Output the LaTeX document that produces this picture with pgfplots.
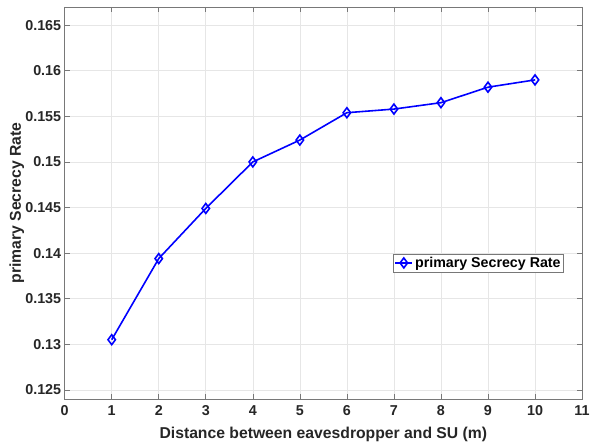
\documentclass[border=0pt]{standalone}
\usepackage{fontspec}
\setmainfont{Liberation Sans}
\usepackage{pgfplots}
\pgfplotsset{compat=1.18}

\definecolor{mblue}{RGB}{0,0,255}
\definecolor{axgray}{RGB}{120,120,120}
\definecolor{gridgray}{RGB}{230,230,230}

\begin{document}
\begin{tikzpicture}
\begin{axis}[
  scale only axis, width=520pt, height=394pt,
  xmin=0, xmax=11, ymin=0.124, ymax=0.167,
  xtick={0,1,...,11},
  xticklabels={0,1,2,3,4,5,6,7,8,9,10,11},
  ytick={0.125,0.13,0.135,0.14,0.145,0.15,0.155,0.16,0.165},
  yticklabels={0.125,0.13,0.135,0.14,0.145,0.15,0.155,0.16,0.165},
  every tick label/.append style={font=\Large\bfseries, text=black!85},
  xticklabel style={yshift=-3pt},
  tick align=inside, tick pos=both,
  major tick length=5pt,
  axis line style={axgray, line width=0.7pt},
  every tick/.style={axgray, line width=0.6pt},
  grid=major, major grid style={gridgray, line width=0.6pt},
  xlabel={Distance between eavesdropper and SU (m)},
  ylabel={primary Secrecy Rate},
  label style={font=\fontsize{15.8}{18}\selectfont\bfseries, text=black!85},
  xlabel style={at={(axis description cs:0.5,-0.0914)}, anchor=center},
  ylabel style={at={(axis description cs:-0.0923,0.5)}, anchor=center},
  legend style={at={(axis description cs:0.8,0.347)}, anchor=center,
    draw=axgray, fill=white, font=\fontsize{14.3}{16}\selectfont\bfseries,
    inner sep=1pt, row sep=0pt},
  legend cell align=left,
]
\addplot[mblue, line width=1.6pt, mark=diamond, mark size=5pt,
  mark options={line width=1.6pt, fill=none}]
  coordinates {
  (1,0.1305) (2,0.1394) (3,0.1449) (4,0.1500) (5,0.1524)
  (6,0.1554) (7,0.1558) (8,0.1565) (9,0.1582) (10,0.1590)
  };
\legend{primary Secrecy Rate}
\end{axis}
\pgfresetboundingbox
\path ([shift={(-65pt,-46pt)}]current axis.south west) rectangle ([shift={(8pt,7pt)}]current axis.north east);
\end{tikzpicture}
\end{document}
